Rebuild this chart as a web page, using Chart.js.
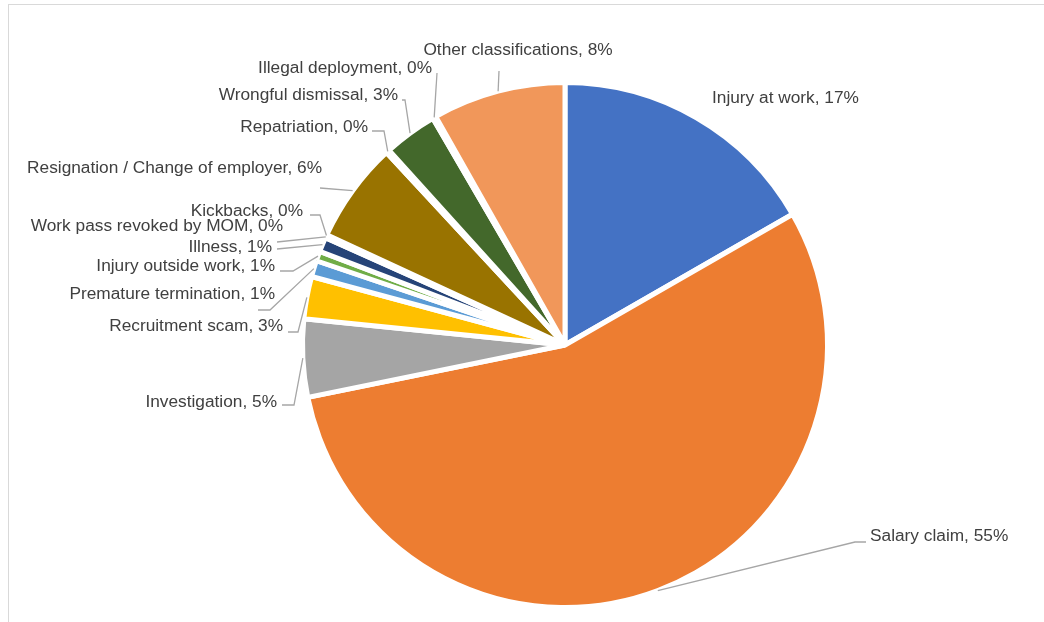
<!DOCTYPE html>
<html>
<head>
<meta charset="utf-8">
<script src="https://cdn.jsdelivr.net/npm/chart.js@4/dist/chart.umd.min.js"></script>
<style>
  html, body { margin: 0; padding: 0; background: #fff; overflow: hidden; }
  #wrap { position: relative; width: 1044px; height: 622px; }
  #frame { position: absolute; left: 8px; top: 4px; width: 1100px; height: 700px; border: 1px solid #d9d9d9; }
  canvas { position: absolute; left: 0; top: 0; }
</style>
</head>
<body>
<div id="wrap">
  <div id="frame"></div>
  <canvas id="caseChart" width="1044" height="622"></canvas>
</div>
<script>
// Case categories (clockwise from 12 o'clock)
const categories = [
  'Injury at work', 'Salary claim', 'Investigation', 'Recruitment scam',
  'Premature termination', 'Injury outside work', 'Illness',
  'Work pass revoked by MOM', 'Kickbacks', 'Resignation / Change of employer',
  'Repatriation', 'Wrongful dismissal', 'Illegal deployment', 'Other classifications'
];

// Share of cases (%)
const shares = [16.7, 55.1, 4.8, 2.6, 1.0, 0.6, 0.9, 0.1, 0.1, 6.2, 0.2, 3.3, 0.2, 8.2];

// Office palette
const sliceColors = [
  '#4472C4', '#ED7D31', '#A5A5A5', '#FFC000', '#5B9BD5', '#70AD47', '#264478',
  '#9E480E', '#636363', '#997300', '#255E91', '#43682B', '#698ED0', '#F1975A'
];

// Label placement: text anchor, alignment, leader start and horizontal elbow
const labelLayout = [
  { x: 712, y: 98, align: 'left' },
  { x: 870, y: 536, align: 'left', lx: 866, ly: 542, elbow: -11 },
  { x: 277, y: 402, align: 'right', lx: 282, ly: 405, elbow: 12 },
  { x: 283, y: 326, align: 'right', lx: 288, ly: 332, elbow: 10 },
  { x: 275, y: 294, align: 'right', lx: 258, ly: 310, elbow: 12 },
  { x: 275, y: 266, align: 'right', lx: 280, ly: 271, elbow: 13 },
  { x: 272, y: 247, align: 'right', lx: 277, ly: 249, elbow: 0 },
  { x: 283, y: 226, align: 'right', lx: 277, ly: 242, elbow: 0 },
  { x: 303, y: 211, align: 'right', lx: 310, ly: 215, elbow: 10 },
  { x: 322, y: 168, align: 'right', lx: 320, ly: 188, elbow: 0 },
  { x: 368, y: 127, align: 'right', lx: 372, ly: 131, elbow: 12 },
  { x: 398, y: 95, align: 'right', lx: 402, ly: 100, elbow: 3 },
  { x: 432, y: 68, align: 'right', lx: 437, ly: 73, elbow: 0 },
  { x: 518, y: 50, align: 'center', lx: 499, ly: 71, elbow: 0 }
];

// Draw "Name, NN%" labels with leader lines
const pieLabels = {
  id: 'pieLabels',
  afterDatasetsDraw(chart) {
    const ctx = chart.ctx;
    const meta = chart.getDatasetMeta(0);
    const data = chart.data.datasets[0].data;
    const total = data.reduce((a, b) => a + b, 0);
    ctx.save();
    meta.data.forEach((arc, i) => {
      const pos = labelLayout[i];
      const text = `${chart.data.labels[i]}, ${Math.round(data[i] / total * 100)}%`;

      if (pos.lx !== undefined) {
        const mid = (arc.startAngle + arc.endAngle) / 2;
        const r = arc.outerRadius;
        const ax = arc.x + r * Math.cos(mid);
        const ay = arc.y + r * Math.sin(mid);
        ctx.beginPath();
        ctx.strokeStyle = '#a6a6a6';
        ctx.lineWidth = 1.3;
        ctx.moveTo(pos.lx, pos.ly);
        if (pos.elbow) ctx.lineTo(pos.lx + pos.elbow, pos.ly);
        ctx.lineTo(ax, ay);
        ctx.stroke();
      }

      ctx.font = '17.3px "Liberation Sans", Arial, sans-serif';
      ctx.fillStyle = '#404040';
      ctx.textAlign = pos.align;
      ctx.textBaseline = 'middle';
      ctx.fillText(text, pos.x, pos.y);
    });
    ctx.restore();
  }
};

new Chart(document.getElementById('caseChart'), {
  type: 'pie',
  data: {
    labels: categories,
    datasets: [{
      data: shares,
      backgroundColor: sliceColors,
      borderColor: '#ffffff',
      borderWidth: 5
    }]
  },
  options: {
    responsive: false,
    animation: false,
    layout: { padding: { top: 80, bottom: 12, left: 300, right: 214 } },
    plugins: {
      legend: { display: false },
      tooltip: { enabled: false }
    }
  },
  plugins: [pieLabels]
});
</script>
</body>
</html>
